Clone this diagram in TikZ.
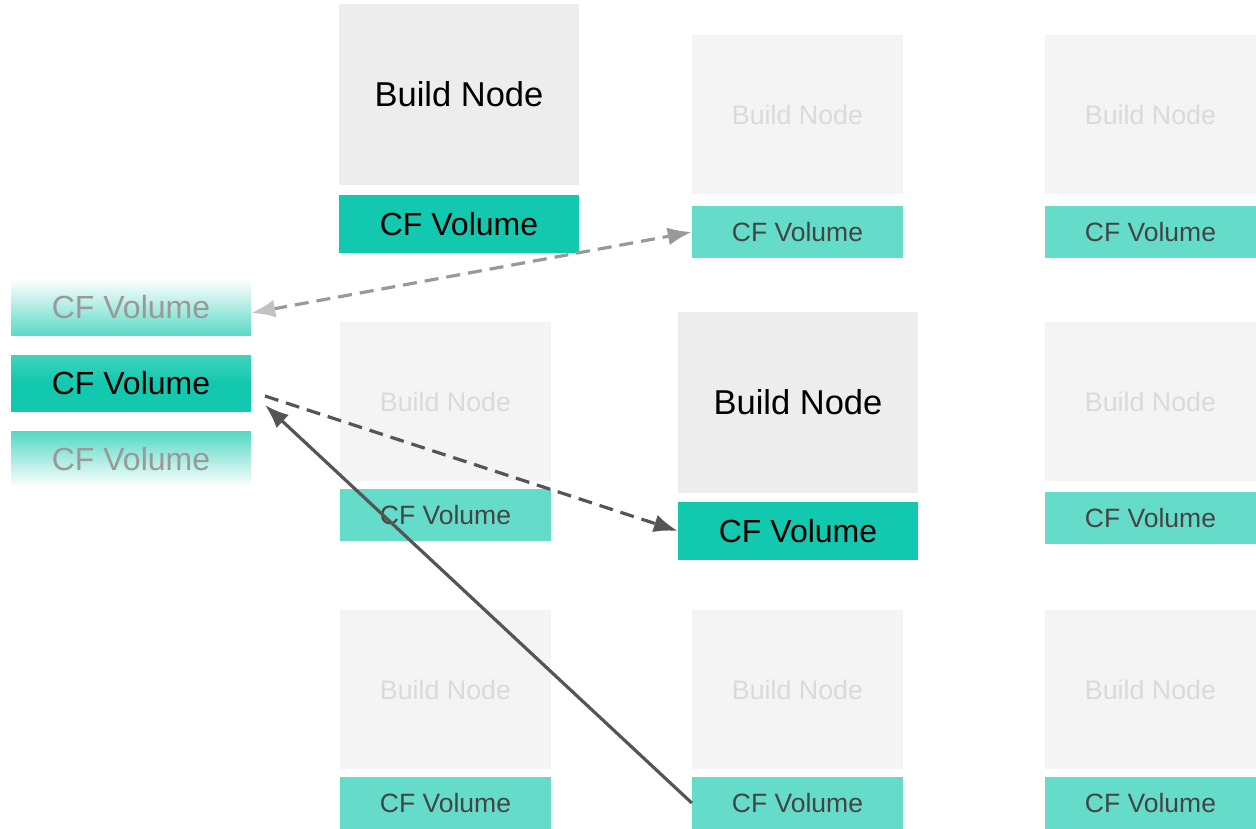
\documentclass[tikz,border=0pt]{standalone}
\usepackage{fontspec}
\setmainfont{Liberation Sans}
\usetikzlibrary{arrows.meta}
\definecolor{teal1}{HTML}{12C8AE}
\definecolor{teal2}{HTML}{64DCC9}
\definecolor{bn1}{HTML}{EDEDED}
\definecolor{bn2}{HTML}{F4F4F4}
\definecolor{bntxt}{HTML}{DADADA}
\definecolor{cftxt}{HTML}{444444}
\definecolor{dark}{HTML}{555555}
\definecolor{lightarr}{HTML}{999999}
\definecolor{lighttip}{HTML}{C2C2C2}
\tikzset{
  bigbn/.style={fill=bn1, draw=none, inner sep=0pt, minimum width=240, minimum height=181, font=\fontsize{34.5}{37}\selectfont, text=black},
  bigcf/.style={fill=teal1, draw=none, inner sep=0pt, minimum width=240, minimum height=58, font=\fontsize{32}{35}\selectfont, text=black},
  smbn/.style={fill=bn2, draw=none, inner sep=0pt, minimum width=211, minimum height=159, font=\fontsize{26.8}{29}\selectfont, text=bntxt},
  smcf/.style={fill=teal2, draw=none, inner sep=0pt, minimum width=211, minimum height=52, font=\fontsize{26.5}{29}\selectfont, text=cftxt},
  fadecf/.style={draw=none, inner sep=0pt, minimum width=240, minimum height=56, font=\fontsize{32}{35}\selectfont, text=black!40},
  arr/.style={line width=3.2pt, -{Latex[length=24pt,width=18pt]}},
}
\begin{document}
\begin{tikzpicture}[x=1pt,y=-1pt]
\useasboundingbox (0,0) rectangle (1256,829);
% row 1
\node[bigbn] (bn11) at (459,94.5) {Build Node};
\node[bigcf] (cf11) at (459,224) {CF Volume};
\node[smbn] (bn12) at (797.5,114.5) {Build Node};
\node[smcf] (cf12) at (797.5,232) {CF Volume};
\node[smbn] (bn13) at (1150.5,114.5) {Build Node};
\node[smcf] (cf13) at (1150.5,232) {CF Volume};
% row 2
\node[smbn] (bn21) at (445.5,401.5) {Build Node};
\node[smcf] (cf21) at (445.5,515) {CF Volume};
\node[bigbn] (bn22) at (798,402.5) {Build Node};
\node[bigcf] (cf22) at (798,531) {CF Volume};
\node[smbn] (bn23) at (1150.5,401.5) {Build Node};
\node[smcf] (cf23) at (1150.5,518) {CF Volume};
% row 3
\node[smbn] (bn31) at (445.5,689.5) {Build Node};
\node[smcf] (cf31) at (445.5,803) {CF Volume};
\node[smbn] (bn32) at (797.5,689.5) {Build Node};
\node[smcf] (cf32) at (797.5,803) {CF Volume};
\node[smbn] (bn33) at (1150.5,689.5) {Build Node};
\node[smcf] (cf33) at (1150.5,803) {CF Volume};
% left column
\node[fadecf, top color=white, bottom color=teal2!90!teal1] (lv1) at (131,307) {CF Volume};
\node[fadecf, top color=teal1!80!white, bottom color=teal1, middle color=teal1, text=black] (lv2) at (131,383) {CF Volume};
\node[fadecf, top color=teal2!80!teal1, bottom color=white] (lv3) at (131,459) {CF Volume};
% arrows
\draw[arr, lightarr, dash pattern=on 14pt off 8pt, {Latex[length=24pt,width=18pt,color=lighttip]}-{Latex[length=24pt,width=18pt]}] (lv1.east) ++(0,6) coordinate (a1) -- (cf12.west) ;
\coordinate (a2) at (265,396);
\draw[arr, dark, dash pattern=on 14pt off 8pt] (a2) -- (cf22.west);
\coordinate (a3) at (265,405);
\draw[arr, dark] (cf32.west) -- (a3);
\end{tikzpicture}
\end{document}
